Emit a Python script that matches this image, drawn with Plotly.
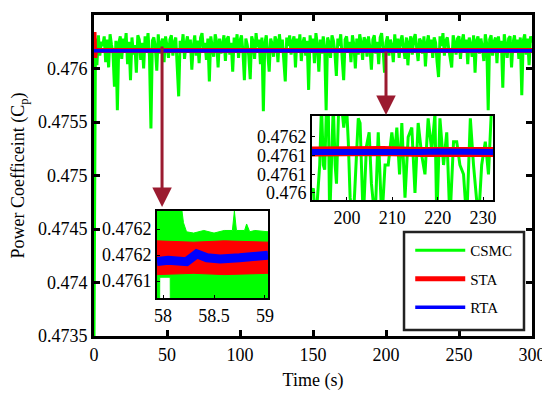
import plotly.graph_objects as go

# ---------------- main plot data ----------------
time_s = list(range(301))
cp_csmc = [
    0.47350, 0.47628, 0.47603, 0.47631, 0.47612, 0.47625, 0.47621, 0.47630, 0.47606, 0.47627,
    0.47601, 0.47632, 0.47622, 0.47614, 0.47583, 0.47626, 0.47561, 0.47624, 0.47630, 0.47609,
    0.47628, 0.47619, 0.47633, 0.47604, 0.47625, 0.47589, 0.47629, 0.47613, 0.47622, 0.47596,
    0.47631, 0.47627, 0.47608, 0.47624, 0.47600, 0.47630, 0.47618, 0.47633, 0.47611, 0.47544,
    0.47626, 0.47629, 0.47620, 0.47598, 0.47632, 0.47614, 0.47623, 0.47628, 0.47606, 0.47630,
    0.47621, 0.47610, 0.47627, 0.47631, 0.47612, 0.47624, 0.47629, 0.47603, 0.47574, 0.47626,
    0.47618, 0.47632, 0.47609, 0.47623, 0.47630, 0.47615, 0.47627, 0.47599, 0.47621, 0.47631,
    0.47612, 0.47626, 0.47605, 0.47629, 0.47633, 0.47617, 0.47624, 0.47608, 0.47628, 0.47588,
    0.47630, 0.47620, 0.47611, 0.47632, 0.47625, 0.47601, 0.47628, 0.47614, 0.47623, 0.47631,
    0.47607, 0.47627, 0.47630, 0.47613, 0.47624, 0.47597, 0.47629, 0.47619, 0.47632, 0.47610,
    0.47626, 0.47631, 0.47616, 0.47589, 0.47628, 0.47622, 0.47612, 0.47590, 0.47630, 0.47625,
    0.47609, 0.47633, 0.47620, 0.47627, 0.47604, 0.47629, 0.47560, 0.47624, 0.47631, 0.47614,
    0.47597, 0.47628, 0.47623, 0.47611, 0.47630, 0.47626, 0.47606, 0.47632, 0.47618, 0.47627,
    0.47608, 0.47588, 0.47629, 0.47621, 0.47631, 0.47613, 0.47625, 0.47630, 0.47601, 0.47628,
    0.47616, 0.47632, 0.47607, 0.47624, 0.47629, 0.47612, 0.47626, 0.47580, 0.47631, 0.47619,
    0.47628, 0.47605, 0.47633, 0.47622, 0.47597, 0.47627, 0.47614, 0.47630, 0.47620, 0.47561,
    0.47629, 0.47624, 0.47610, 0.47631, 0.47626, 0.47615, 0.47593, 0.47628, 0.47621, 0.47632,
    0.47609, 0.47589, 0.47627, 0.47630, 0.47617, 0.47625, 0.47606, 0.47631, 0.47622, 0.47600,
    0.47628, 0.47613, 0.47632, 0.47624, 0.47608, 0.47629, 0.47626, 0.47611, 0.47630, 0.47619,
    0.47599, 0.47627, 0.47631, 0.47614, 0.47625, 0.47604, 0.47629, 0.47633, 0.47618, 0.47596,
    0.47624, 0.47630, 0.47612, 0.47627, 0.47621, 0.47606, 0.47632, 0.47615, 0.47628, 0.47610,
    0.47626, 0.47631, 0.47619, 0.47609, 0.47629, 0.47603, 0.47624, 0.47630, 0.47613, 0.47627,
    0.47632, 0.47620, 0.47607, 0.47628, 0.47625, 0.47614, 0.47630, 0.47602, 0.47623, 0.47631,
    0.47616, 0.47627, 0.47610, 0.47629, 0.47624, 0.47606, 0.47592, 0.47630, 0.47621, 0.47633,
    0.47612, 0.47626, 0.47629, 0.47618, 0.47608, 0.47601, 0.47631, 0.47624, 0.47613, 0.47628,
    0.47630, 0.47609, 0.47625, 0.47632, 0.47615, 0.47627, 0.47604, 0.47629, 0.47622, 0.47611,
    0.47631, 0.47596, 0.47626, 0.47630, 0.47614, 0.47628, 0.47620, 0.47607, 0.47632, 0.47623,
    0.47561, 0.47627, 0.47631, 0.47612, 0.47625, 0.47629, 0.47605, 0.47630, 0.47618, 0.47626,
    0.47582, 0.47632, 0.47622, 0.47610, 0.47628, 0.47630, 0.47601, 0.47624, 0.47631, 0.47615,
    0.47627, 0.47609, 0.47629, 0.47575, 0.47626, 0.47632, 0.47613, 0.47628, 0.47603, 0.47630,
    0.47624,
]
sta_time = [0, 0.5, 1.0, 300]
cp_sta = [0.47634, 0.47610, 0.476168, 0.476168]
rta_time = [0, 300]
cp_rta = [0.476165, 0.476165]

# ---------------- inset 1 (58 - 59 s) ----------------
z1_csmc_up_t = [57.94, 58.16, 58.2, 58.23, 58.3, 58.4, 58.5, 58.6, 58.68, 58.7,
                58.72, 58.8, 58.82, 58.85, 58.9, 59.03]
z1_csmc_up_v = [0.47621, 0.47621, 0.476185, 0.476178, 0.476177, 0.476179, 0.476177,
                0.476179, 0.476179, 0.476194, 0.476179, 0.476179, 0.476184, 0.476178,
                0.476179, 0.476178]
z1_csmc_lo_t = [57.94, 57.965, 57.967, 58.07, 58.072, 59.03]
z1_csmc_lo_v = [0.47610, 0.47610, 0.476143, 0.476143, 0.47610, 0.47610]
z1_sta_t = [57.94, 58.3, 58.6, 59.03]
z1_sta_up = [0.476171, 0.476170, 0.476171, 0.476170]
z1_sta_lo = [0.476145, 0.476146, 0.476145, 0.476146]
z1_rta_t = [57.94, 58.05, 58.23, 58.3, 58.33, 58.43, 58.56, 58.75, 58.88, 59.03]
z1_rta_v = [0.476155, 0.476156, 0.476155, 0.476158, 0.476161, 0.476158, 0.476157,
            0.476158, 0.476159, 0.476160]

# ---------------- inset 2 (192 - 232 s) ----------------
z2_csmc_t = [192.2, 192.6, 193.0, 193.3, 194.0, 194.4, 194.8, 195.1, 195.5, 195.9,
             196.2, 196.6, 197.0, 197.4, 197.7, 198.2, 198.8, 199.3, 199.9, 200.3,
             200.7, 201.4, 202.1, 202.5, 202.9, 203.6, 204.3, 204.9, 205.4, 206.2,
             206.9, 207.7, 208.4, 209.1, 209.9, 210.5, 211.0, 211.6, 212.1, 212.8,
             213.5, 214.3, 215.0, 215.7, 216.5, 217.2, 217.9, 218.7, 219.4, 219.8,
             220.5, 221.3, 222.0, 222.7, 223.5, 224.2, 224.9, 225.7, 226.4, 227.2,
             227.9, 228.3, 229.0, 229.7, 230.5, 231.2, 231.9, 232.3]
z2_csmc_v = [0.47604, 0.47605, 0.47598, 0.47600, 0.47610, 0.47623, 0.47610, 0.47609, 0.47623, 0.47622,
             0.47598, 0.47612, 0.47623, 0.47610, 0.47606, 0.47623, 0.47623, 0.47618, 0.47623, 0.47615,
             0.47603, 0.47598, 0.47612, 0.47620, 0.47619, 0.47598, 0.47614, 0.47617, 0.47606, 0.47598,
             0.47617, 0.47598, 0.47610, 0.47610, 0.47617, 0.47612, 0.47618, 0.47608, 0.47619, 0.47603,
             0.47616, 0.47618, 0.47604, 0.47619, 0.47612, 0.47608, 0.47620, 0.47613, 0.47621, 0.47598,
             0.47620, 0.47610, 0.47617, 0.47598, 0.47615, 0.47615, 0.47610, 0.47608, 0.47598, 0.47620,
             0.47610, 0.47606, 0.47598, 0.47610, 0.47615, 0.47608, 0.47623, 0.47625]
z2_sta_t = [192.3, 196, 200, 204, 208, 212, 215.5, 216.5, 220, 224, 228, 232.3]
z2_sta_v = [0.476129, 0.476128, 0.476129, 0.476128, 0.476130, 0.476129, 0.476126,
            0.476128, 0.476128, 0.476129, 0.476128, 0.476128]
z2_rta_t = [192.3, 196, 200, 204, 208, 212, 216, 220, 224, 228, 232.3]
z2_rta_v = [0.476128, 0.476129, 0.476127, 0.476128, 0.476128, 0.476127, 0.476128,
            0.476129, 0.476128, 0.476127, 0.476128]

GREEN = "#00FF00"
RED = "#FF0000"
BLUE = "#0000FF"
ARROW = "#9B1B30"
FONT = "Times New Roman, Liberation Serif, serif"

fig = go.Figure()

# main traces
fig.add_trace(go.Scatter(x=time_s, y=cp_csmc, mode="lines", name="CSMC",
                         line=dict(color=GREEN, width=3), legendgroup="a"))
fig.add_trace(go.Scatter(x=sta_time, y=cp_sta, mode="lines", name="STA",
                         line=dict(color=RED, width=5), legendgroup="b"))
fig.add_trace(go.Scatter(x=rta_time, y=cp_rta, mode="lines", name="RTA",
                         line=dict(color=BLUE, width=3.5), legendgroup="c"))

# inset 1 traces
fig.add_trace(go.Scatter(x=z1_csmc_up_t + z1_csmc_lo_t[::-1],
                         y=z1_csmc_up_v + z1_csmc_lo_v[::-1],
                         fill="toself", fillcolor=GREEN, mode="lines",
                         line=dict(color=GREEN, width=1), showlegend=False,
                         xaxis="x2", yaxis="y2"))
fig.add_trace(go.Scatter(x=z1_sta_t + z1_sta_t[::-1],
                         y=z1_sta_up + z1_sta_lo[::-1],
                         fill="toself", fillcolor=RED, mode="lines",
                         line=dict(color=RED, width=1), showlegend=False,
                         xaxis="x2", yaxis="y2"))
fig.add_trace(go.Scatter(x=z1_rta_t, y=z1_rta_v, mode="lines",
                         line=dict(color=BLUE, width=9), showlegend=False,
                         xaxis="x2", yaxis="y2"))

# inset 2 traces
fig.add_trace(go.Scatter(x=z2_csmc_t, y=z2_csmc_v, mode="lines",
                         line=dict(color=GREEN, width=3), showlegend=False,
                         xaxis="x3", yaxis="y3"))
fig.add_trace(go.Scatter(x=z2_sta_t, y=z2_sta_v, mode="lines",
                         line=dict(color=RED, width=10), showlegend=False,
                         xaxis="x3", yaxis="y3"))
fig.add_trace(go.Scatter(x=z2_rta_t, y=z2_rta_v, mode="lines",
                         line=dict(color=BLUE, width=6), showlegend=False,
                         xaxis="x3", yaxis="y3"))

tickfont = dict(family=FONT, size=18, color="black")
main_ax = dict(showgrid=False, zeroline=False, showline=True, linecolor="black",
               linewidth=3, mirror="allticks", ticks="inside", ticklen=6,
               tickwidth=2.5, tickcolor="black", tickfont=tickfont, automargin=False)
inset_ax = dict(showgrid=False, zeroline=False, showline=True, linecolor="black",
                linewidth=2, mirror=True, ticks="inside", ticklen=3,
                tickwidth=1, tickcolor="black", tickfont=tickfont, automargin=False)

# the page body has an 8px margin, so the figure is 542x389 and sits at (8, 8)
fig.update_layout(
    width=542, height=389,
    margin=dict(l=86, r=18, t=7, b=61),
    paper_bgcolor="white", plot_bgcolor="white",
    font=dict(family=FONT, size=18, color="black"),
    xaxis=dict(main_ax, range=[0, 300], tickvals=[0, 50, 100, 150, 200, 250, 300],
               title=dict(text="Time (s)", font=dict(family=FONT, size=18), standoff=10)),
    yaxis=dict(main_ax, range=[0.4735, 0.4765], tick0=0.4735, dtick=0.0005,
               tickformat=".4~f",
               title=dict(text="Power Coefficeint (C<sub>p</sub>)",
                          font=dict(family=FONT, size=18), standoff=10)),
    xaxis2=dict(inset_ax, domain=[0.1438, 0.3973], anchor="y2", range=[57.94, 59.03],
                tickvals=[58, 58.5, 59]),
    yaxis2=dict(inset_ax, domain=[0.1184, 0.3894], anchor="x2",
                range=[0.476127, 0.476194], tickvals=[0.47614, 0.47616, 0.47618],
                tickformat=".4~f"),
    xaxis3=dict(inset_ax, domain=[0.4977, 0.911], anchor="y3", range=[192.3, 232.2],
                tickvals=[200, 210, 220, 230]),
    yaxis3=dict(inset_ax, domain=[0.4237, 0.6854], anchor="x3",
                range=[0.476025, 0.476205],
                tickvals=[0.47604, 0.47608, 0.47612, 0.47616], tickformat=".4~f"),
    legend=dict(x=0.722, y=0.318, xanchor="left", yanchor="top",
                bgcolor="rgba(0,0,0,0)", borderwidth=0,
                font=dict(family=FONT, size=15, color="black"),
                tracegroupgap=6, itemwidth=50),
    shapes=[dict(type="rect", xref="paper", yref="paper",
                 x0=0.7078, x1=0.9817, y0=0.0187, y1=0.324,
                 line=dict(color="#222222", width=2.5), fillcolor="rgba(0,0,0,0)",
                 layer="above")],
    annotations=[
        dict(x=46.6, y=0.474706, xref="x", yref="y", ax=46.6, ay=0.47622,
             axref="x", ayref="y", text="", showarrow=True, arrowhead=2,
             arrowsize=1.3, arrowwidth=3, arrowcolor=ARROW),
        dict(x=200, y=0.475565, xref="x", yref="y", ax=200, ay=0.476173,
             axref="x", ayref="y", text="", showarrow=True, arrowhead=2,
             arrowsize=1.3, arrowwidth=3, arrowcolor=ARROW),
    ],
)

fig.write_html("out.html")
